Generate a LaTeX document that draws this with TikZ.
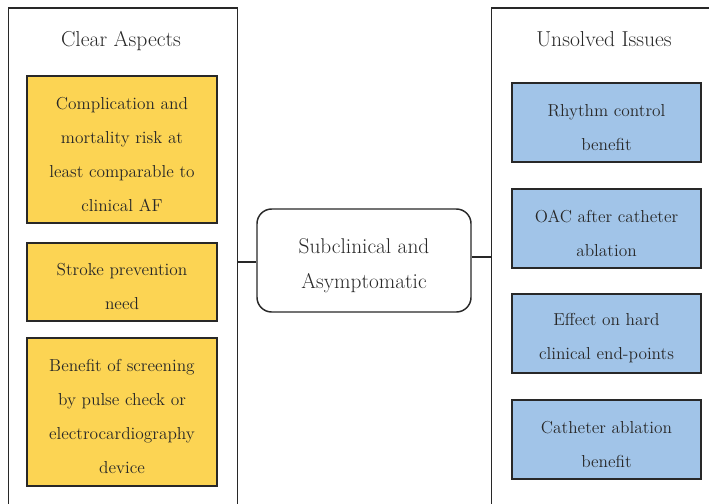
\documentclass[tikz,border=0pt]{standalone}
\definecolor{yel}{HTML}{FCD453}
\definecolor{blu}{HTML}{A1C4E8}
\definecolor{ink}{HTML}{282828}
\newcommand{\myupstrut}{\rule{0pt}{16pt}}
\newcommand{\myhubstrut}{\rule{0pt}{19pt}}
\begin{document}
\begin{tikzpicture}[x=0.75pt,y=-0.75pt,
  panel/.style={draw=ink,line width=1.1pt,anchor=north west,inner sep=0pt},
  ybox/.style={draw=ink,fill=yel,line width=1.2pt,minimum width=142.5pt,inner sep=0pt,
    align=center,text=ink,font=\fontsize{13}{25.5}\selectfont},
  bbox/.style={draw=ink,fill=blu,line width=1.2pt,minimum width=141.75pt,minimum height=59.25pt,inner sep=0pt,
    align=center,text=ink,font=\fontsize{13}{25.5}\selectfont},
  ttl/.style={text=ink,anchor=base,font=\fontsize{16.2}{19}\selectfont},
  hub/.style={draw=ink,line width=1.1pt,rounded corners=11pt,minimum width=160.5pt,minimum height=77.25pt,
    inner sep=0pt,align=center,text=ink,font=\fontsize{16}{26.25}\selectfont},
  link/.style={draw=ink,line width=1.1pt}]
\useasboundingbox (0,0) rectangle (709,503);
\clip (0,0) rectangle (709,503);
\node[panel,minimum width=171.75pt,minimum height=400pt] (lp) at (7.5,7.5) {};
\node[panel,minimum width=200pt,minimum height=400pt] (rp) at (491,7.5) {};
\node[ttl] (lt) at (121,47) {Clear Aspects};
\node[ttl] (rt) at (604,47) {Unsolved Issues};
\node[ybox,minimum height=110.25pt] (y1) at (122,149.5) {\myupstrut Complication and\\mortality risk at\\least comparable to\\clinical AF};
\node[ybox,minimum height=58.5pt] (y2) at (122,282) {\myupstrut Stroke prevention\\need};
\node[ybox,minimum height=111pt] (y3) at (122,412) {\myupstrut Benefit of screening\\by pulse check or\\electrocardiography\\device};
\node[bbox] (b1) at (606.5,122.5) {\myupstrut Rhythm control\\benefit};
\node[bbox] (b2) at (606.5,228.5) {\myupstrut OAC after catheter\\ablation};
\node[bbox] (b3) at (606.5,333.5) {\myupstrut Effect on hard\\clinical end-points};
\node[bbox] (b4) at (606.5,439.5) {\myupstrut Catheter ablation\\benefit};
\node[hub] (c) at (364,260.5) {\myhubstrut Subclinical and\\Asymptomatic};
\draw[link] ([yshift=-1.1pt]c.west) -- ([yshift=-1.1pt]c.west -| lp.east);
\draw[link] ([yshift=2.6pt]c.east) -- ([yshift=2.6pt]c.east -| rp.west);
\end{tikzpicture}
\end{document}
